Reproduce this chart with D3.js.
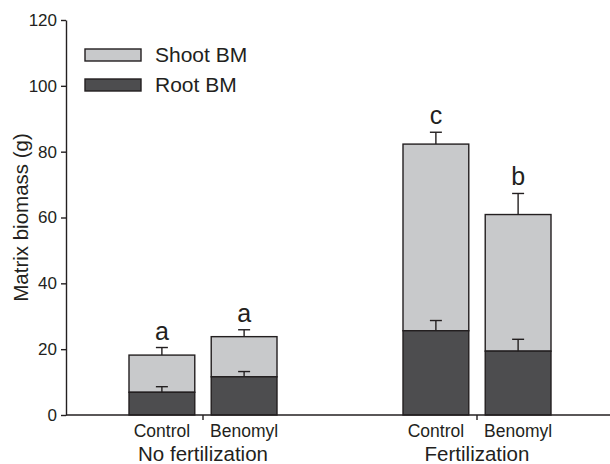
<!DOCTYPE html>
<html>
<head>
    <script src="https://cdnjs.cloudflare.com/ajax/libs/d3/7.8.5/d3.min.js"></script>
    <style>
        body { margin: 0; background: #fff; }
        svg { font-family: "Liberation Sans", Arial, sans-serif; }
        .axis path, .axis line { stroke: #231f20; stroke-width: 1.4px; }
        .axis text { fill: #231f20; }
    </style>
</head>
<body>
    <div id="chart"></div>
    <script>
        // Data
        const groups = ["No fertilization", "Fertilization"];
        const treatments = ["Control", "Benomyl"];
        // order: NF-Control, NF-Benomyl, F-Control, F-Benomyl
        const rootBM = [6.9, 11.6, 25.6, 19.4];
        const rootErr = [1.7, 1.6, 3.1, 3.6];
        const totalBM = [18.2, 23.8, 82.3, 60.9];
        const totalErr = [2.3, 2.1, 3.6, 6.4];
        const letters = ["a", "a", "c", "b"];
        const yTicks = [0, 20, 40, 60, 80, 100, 120];

        const width = 610, height = 464;
        const margin = { left: 66, right: -4, top: 20, bottom: 49 };

        const svg = d3.select("#chart").append("svg")
            .attr("width", width)
            .attr("height", height);

        const y = d3.scaleLinear()
            .domain([0, 120])
            .range([height - margin.bottom, margin.top]);

        const x0 = d3.scaleBand()
            .domain(groups)
            .range([margin.left, width - margin.right])
            .padding(0);

        const x1 = d3.scaleBand()
            .domain(treatments)
            .range([-74, 74])
            .paddingInner(0.2)
            .paddingOuter(0);

        const rows = [];
        groups.forEach((g, gi) => treatments.forEach((t, ti) => {
            const i = gi * 2 + ti;
            rows.push({ group: g, treat: t, root: rootBM[i], rootErr: rootErr[i],
                total: totalBM[i], totalErr: totalErr[i], letter: letters[i] });
        }));

        const barX = d => x0(d.group) + x0.bandwidth() / 2 + x1(d.treat);
        const barC = d => barX(d) + x1.bandwidth() / 2;

        const stroke = "#231f20";
        const shootFill = "#c8c9cb";
        const rootFill = "#4d4d4f";

        // Shoot (stack top)
        svg.append("g").selectAll("rect").data(rows).join("rect")
            .attr("x", barX)
            .attr("width", x1.bandwidth())
            .attr("y", d => y(d.total))
            .attr("height", d => y(d.root) - y(d.total))
            .attr("fill", shootFill)
            .attr("stroke", stroke).attr("stroke-width", 1.4);

        // Root
        svg.append("g").selectAll("rect").data(rows).join("rect")
            .attr("x", barX)
            .attr("width", x1.bandwidth())
            .attr("y", d => y(d.root))
            .attr("height", d => y(0) - y(d.root))
            .attr("fill", rootFill)
            .attr("stroke", stroke).attr("stroke-width", 1.4);

        // Error bars (upper only)
        const errG = svg.append("g").attr("stroke", stroke).attr("stroke-width", 1.4);
        function errBar(val, err) {
            errG.selectAll(null).data(rows).join("line")
                .attr("x1", barC).attr("x2", barC)
                .attr("y1", d => y(d[val])).attr("y2", d => y(d[val] + d[err]));
            errG.selectAll(null).data(rows).join("line")
                .attr("x1", d => barC(d) - 6).attr("x2", d => barC(d) + 6)
                .attr("y1", d => y(d[val] + d[err])).attr("y2", d => y(d[val] + d[err]));
        }
        errBar("total", "totalErr");
        errBar("root", "rootErr");

        // Letters
        svg.append("g").selectAll("text").data(rows).join("text")
            .attr("x", barC)
            .attr("y", d => y(d.total + d.totalErr) - 8)
            .attr("text-anchor", "middle")
            .attr("font-size", 25)
            .attr("fill", stroke)
            .text(d => d.letter);

        // Y axis
        svg.append("g")
            .attr("class", "axis")
            .attr("transform", `translate(${margin.left},0)`)
            .call(d3.axisLeft(y).tickValues(yTicks).tickSize(5).tickSizeOuter(0))
            .call(g => g.selectAll("text").attr("font-size", 17).attr("dx", "-1"));

        // X axis
        svg.append("g")
            .attr("class", "axis")
            .attr("transform", `translate(0,${y(0)})`)
            .call(d3.axisBottom(x0).tickSize(5).tickSizeOuter(0).tickFormat(""))
            .call(g => g.select(".domain").attr("d", `M${margin.left},0H${width}`));

        // Treatment labels
        svg.append("g").selectAll("text").data(rows).join("text")
            .attr("x", barC)
            .attr("y", y(0) + 22)
            .attr("text-anchor", "middle")
            .attr("font-size", 17.5)
            .attr("fill", stroke)
            .text(d => d.treat);

        // Group labels
        svg.append("g").selectAll("text").data(groups).join("text")
            .attr("x", d => x0(d) + x0.bandwidth() / 2)
            .attr("y", y(0) + 46)
            .attr("text-anchor", "middle")
            .attr("font-size", 20.5)
            .attr("fill", stroke)
            .text(d => d);

        // Y title
        svg.append("text")
            .attr("transform", `translate(28,${(y(0) + y(120)) / 2}) rotate(-90)`)
            .attr("text-anchor", "middle")
            .attr("font-size", 20.5)
            .attr("fill", stroke)
            .text("Matrix biomass (g)");

        // Legend
        const legendItems = [
            { label: "Shoot BM", fill: shootFill },
            { label: "Root BM", fill: rootFill }
        ];
        const lg = svg.append("g").attr("transform", "translate(85,49)");
        lg.selectAll("rect").data(legendItems).join("rect")
            .attr("x", 0).attr("y", (d, i) => i * 30)
            .attr("width", 56).attr("height", 12)
            .attr("fill", d => d.fill)
            .attr("stroke", stroke).attr("stroke-width", 1.4);
        lg.selectAll("text").data(legendItems).join("text")
            .attr("x", 70).attr("y", (d, i) => i * 30 + 13)
            .attr("font-size", 21)
            .attr("fill", stroke)
            .text(d => d.label);
    </script>
</body>
</html>
